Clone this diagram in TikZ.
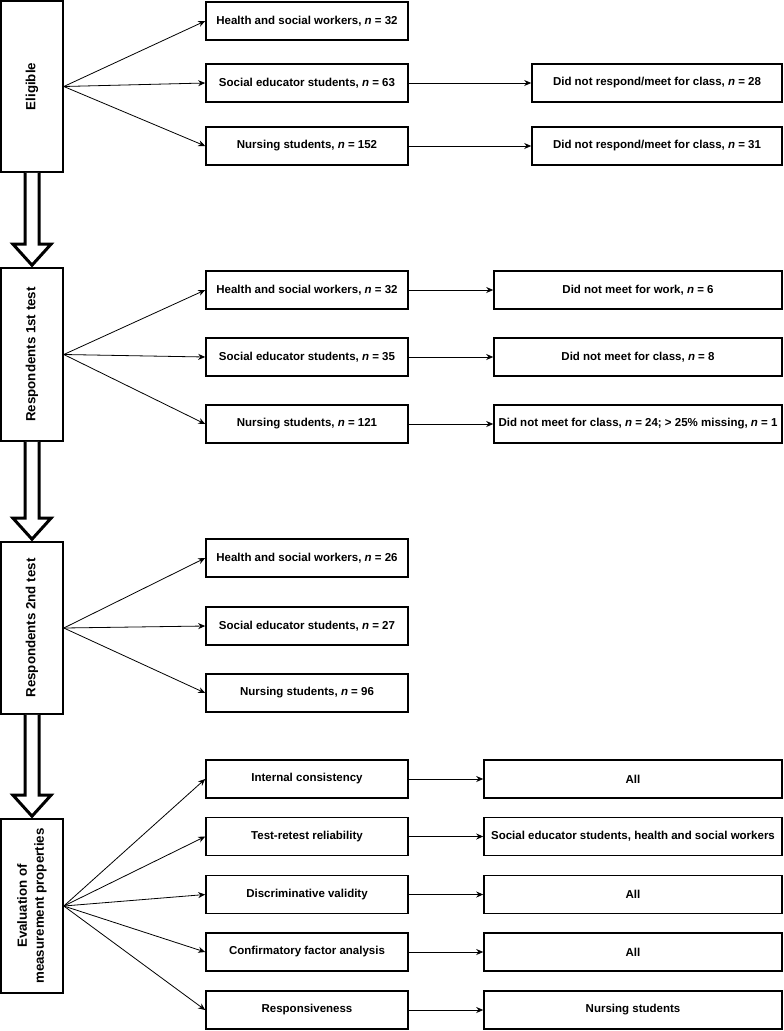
\documentclass[tikz,border=0pt]{standalone}
\usepackage{fontspec}
\setmainfont{Liberation Sans}
\usepackage{tikz}
\usetikzlibrary{calc}
\usetikzlibrary{arrows.meta}

\tikzset{
  leftbox/.style={draw, line width=1.6pt, minimum width=62pt, inner sep=0pt},
  lefttext/.style={rotate=90, align=center, inner sep=0pt, font=\fontsize{13.3}{17}\selectfont\bfseries},
  midbox/.style={draw, line width=1.6pt, minimum width=202pt, minimum height=38pt, inner sep=0pt, font=\fontsize{11.5}{13}\selectfont\bfseries},
  outbox/.style={midbox},
  thinarrow/.style={line width=0.8pt, -{Stealth[length=7pt,width=6pt]}},
  blockarrow/.style={line width=3pt, fill=white, line join=miter},
}

\begin{document}
\begin{tikzpicture}[x=1pt,y=-1pt]
  \useasboundingbox (0,0) rectangle (784,1031);

  % Drawing the four stage boxes on the left
  \node[leftbox, minimum height=171pt] (elig) at (32,86.5) {};
  \node[lefttext] (eligtext) at (elig.center) {Eligible};
  \node[leftbox, minimum height=173pt] (resp1) at (32,354.5) {};
  \node[lefttext] (resp1text) at (resp1.center) {Respondents 1st test};
  \node[leftbox, minimum height=172pt] (resp2) at (32,628) {};
  \node[lefttext] (resp2text) at (resp2.center) {Respondents 2nd test};
  \node[leftbox, minimum height=174pt] (evalp) at (32,906) {};
  \node[lefttext] (evalptext) at (evalp.center) {Evaluation of\\measurement properties};

  % Drawing the block arrows between stages
  \draw[blockarrow] ($(elig.south)+(-7,0)$) -- ($(resp1.north)+(-7,-23)$) -- ($(resp1.north)+(-19,-23)$) -- ($(resp1.north)+(0,-2)$) -- ($(resp1.north)+(19,-23)$) -- ($(resp1.north)+(7,-23)$) -- ($(elig.south)+(7,0)$);
  \draw[blockarrow] ($(resp1.south)+(-7,0)$) -- ($(resp2.north)+(-7,-23)$) -- ($(resp2.north)+(-19,-23)$) -- ($(resp2.north)+(0,-2)$) -- ($(resp2.north)+(19,-23)$) -- ($(resp2.north)+(7,-23)$) -- ($(resp1.south)+(7,0)$);
  \draw[blockarrow] ($(resp2.south)+(-7,0)$) -- ($(evalp.north)+(-7,-23)$) -- ($(evalp.north)+(-19,-23)$) -- ($(evalp.north)+(0,-2)$) -- ($(evalp.north)+(19,-23)$) -- ($(evalp.north)+(7,-23)$) -- ($(resp2.south)+(7,0)$);

  % Eligible
  \node[midbox] (hsw1) at (307,21) {Health and social workers, {\itshape n} = 32};
  \node[midbox] (seds1) at (307,83) {Social educator students, {\itshape n} = 63};
  \node[midbox] (nurs1) at (307,146) {Nursing students, {\itshape n} = 152};
  \node[outbox, minimum width=250pt] (drop1) at (657,83) {Did not respond/meet for class, {\itshape n} = 28};
  \node[outbox, minimum width=250pt] (drop2) at (657,146) {Did not respond/meet for class, {\itshape n} = 31};
  \draw[thinarrow] (elig.east) -- (hsw1.west);
  \draw[thinarrow] (elig.east) -- (seds1.west);
  \draw[thinarrow] (elig.east) -- (nurs1.west);
  \draw[thinarrow] (seds1.east) -- (drop1.west);
  \draw[thinarrow] (nurs1.east) -- (drop2.west);

  % Respondents 1st test
  \node[midbox] (hsw2) at (307,290) {Health and social workers, {\itshape n} = 32};
  \node[midbox] (seds2) at (307,357) {Social educator students, {\itshape n} = 35};
  \node[midbox] (nurs2) at (307,424) {Nursing students, {\itshape n} = 121};
  \node[outbox, minimum width=288pt] (miss1) at (638,290) {Did not meet for work, {\itshape n} = 6};
  \node[outbox, minimum width=288pt] (miss2) at (638,357) {Did not meet for class, {\itshape n} = 8};
  \node[outbox, minimum width=288pt] (miss3) at (638,424) {Did not meet for class, {\itshape n} = 24; > 25\% missing, {\itshape n} = 1};
  \draw[thinarrow] (resp1.east) -- (hsw2.west);
  \draw[thinarrow] (resp1.east) -- (seds2.west);
  \draw[thinarrow] (resp1.east) -- (nurs2.west);
  \draw[thinarrow] (hsw2.east) -- (miss1.west);
  \draw[thinarrow] (seds2.east) -- (miss2.west);
  \draw[thinarrow] (nurs2.east) -- (miss3.west);

  % Respondents 2nd test
  \node[midbox] (hsw3) at (307,558) {Health and social workers, {\itshape n} = 26};
  \node[midbox] (seds3) at (307,626) {Social educator students, {\itshape n} = 27};
  \node[midbox] (nurs3) at (307,693) {Nursing students, {\itshape n} = 96};
  \draw[thinarrow] (resp2.east) -- (hsw3.west);
  \draw[thinarrow] (resp2.east) -- (seds3.west);
  \draw[thinarrow] (resp2.east) -- (nurs3.west);

  % Evaluation of measurement properties
  \node[midbox] (intc) at (307,779) {Internal consistency};
  \node[midbox] (trr) at (307,836.5) {Test-retest reliability};
  \node[midbox] (disc) at (307,894.5) {Discriminative validity};
  \node[midbox] (cfa) at (307,952) {Confirmatory factor analysis};
  \node[midbox] (resps) at (307,1010) {Responsiveness};
  \node[outbox, minimum width=298pt] (all1) at (633,779) {All};
  \node[outbox, minimum width=298pt] (subs) at (633,836.5) {Social educator students, health and social workers};
  \node[outbox, minimum width=298pt] (all2) at (633,894.5) {All};
  \node[outbox, minimum width=298pt] (all3) at (633,952) {All};
  \node[outbox, minimum width=298pt] (nursonly) at (633,1010) {Nursing students};
  \draw[thinarrow] (evalp.east) -- (intc.west);
  \draw[thinarrow] (evalp.east) -- (trr.west);
  \draw[thinarrow] (evalp.east) -- (disc.west);
  \draw[thinarrow] (evalp.east) -- (cfa.west);
  \draw[thinarrow] (evalp.east) -- (resps.west);
  \draw[thinarrow] (intc.east) -- (all1.west);
  \draw[thinarrow] (trr.east) -- (subs.west);
  \draw[thinarrow] (disc.east) -- (all2.west);
  \draw[thinarrow] (cfa.east) -- (all3.west);
  \draw[thinarrow] (resps.east) -- (nursonly.west);
\end{tikzpicture}
\end{document}
